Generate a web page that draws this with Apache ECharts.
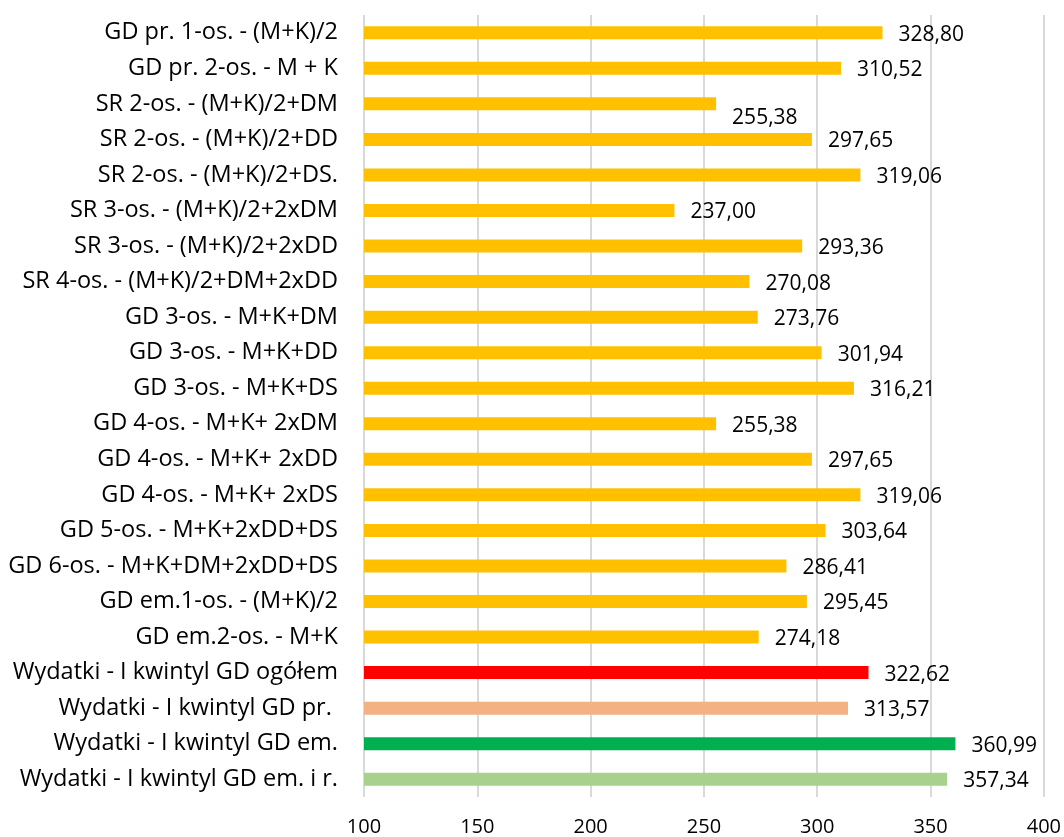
<!DOCTYPE html>
<html>
<head>
<meta charset="utf-8">
<script src="https://cdn.jsdelivr.net/npm/echarts@6/dist/echarts.min.js"></script>
<style>
html,body{margin:0;padding:0;background:#fff;}
#chart{width:1064px;height:837px;}
</style>
</head>
<body>
<div id="chart"></div>
<script>
const categories = [
  "GD pr. 1-os. - (M+K)/2",
  "GD pr. 2-os. - M + K",
  "SR 2-os. - (M+K)/2+DM",
  "SR 2-os. - (M+K)/2+DD",
  "SR 2-os. - (M+K)/2+DS.",
  "SR 3-os. - (M+K)/2+2xDM",
  "SR 3-os. - (M+K)/2+2xDD",
  "SR 4-os. - (M+K)/2+DM+2xDD",
  "GD 3-os. - M+K+DM",
  "GD 3-os. - M+K+DD",
  "GD 3-os. - M+K+DS",
  "GD 4-os. - M+K+ 2xDM",
  "GD 4-os. - M+K+ 2xDD",
  "GD 4-os. - M+K+ 2xDS",
  "GD 5-os. - M+K+2xDD+DS",
  "GD 6-os. - M+K+DM+2xDD+DS",
  "GD em.1-os. - (M+K)/2",
  "GD em.2-os. - M+K",
  "Wydatki - I kwintyl GD ogółem",
  "Wydatki - I kwintyl GD pr. ",
  "Wydatki - I kwintyl GD em.",
  "Wydatki - I kwintyl GD em. i r."
];
const values = [
  328.80, 310.52, 255.38, 297.65, 319.06, 237.00, 293.36, 270.08,
  273.76, 301.94, 316.21, 255.38, 297.65, 319.06, 303.64, 286.41,
  295.45, 274.18, 322.62, 313.57, 360.99, 357.34
];
const xTicks = { min: 100, max: 400, interval: 50 };

const YELLOW = '#FFC000';
const specialColors = { 18: '#FF0000', 19: '#F4B183', 20: '#00B050', 21: '#A9D18E' };
const labelShift = { 2: 14 };

const seriesData = values.map((v, i) => {
  const item = { value: v, itemStyle: { color: specialColors[i] || YELLOW } };
  item.label = { offset: [0, labelShift[i] !== undefined ? labelShift[i] : 2] };
  return item;
});

const FONT = "'Open Sans'";
const chart = echarts.init(document.getElementById('chart'), null, { renderer: 'canvas' });
chart.setOption({
  animation: false,
  backgroundColor: '#fff',
  textStyle: { fontFamily: FONT },
  grid: { left: 364, right: 20, top: 15, bottom: 39, containLabel: false },
  xAxis: {
    type: 'value',
    min: xTicks.min, max: xTicks.max, interval: xTicks.interval,
    axisLine: { show: false },
    axisTick: { show: false },
    splitLine: { show: true, lineStyle: { color: '#d9d9d9', width: 2 } },
    axisLabel: { fontFamily: FONT, fontSize: 20, color: '#000', margin: 20 }
  },
  yAxis: {
    type: 'category',
    data: categories,
    inverse: true,
    axisLine: { show: false },
    axisTick: { show: false },
    axisLabel: { fontFamily: FONT, fontSize: 23.5, color: '#000', margin: 26 }
  },
  series: [{
    type: 'bar',
    data: seriesData,
    barWidth: 13,
    label: {
      show: true,
      position: 'right',
      distance: 16,
      fontFamily: FONT,
      fontSize: 21,
      color: '#000',
      formatter: p => p.value.toFixed(2).replace('.', ',')
    }
  }]
});
</script>
</body>
</html>
